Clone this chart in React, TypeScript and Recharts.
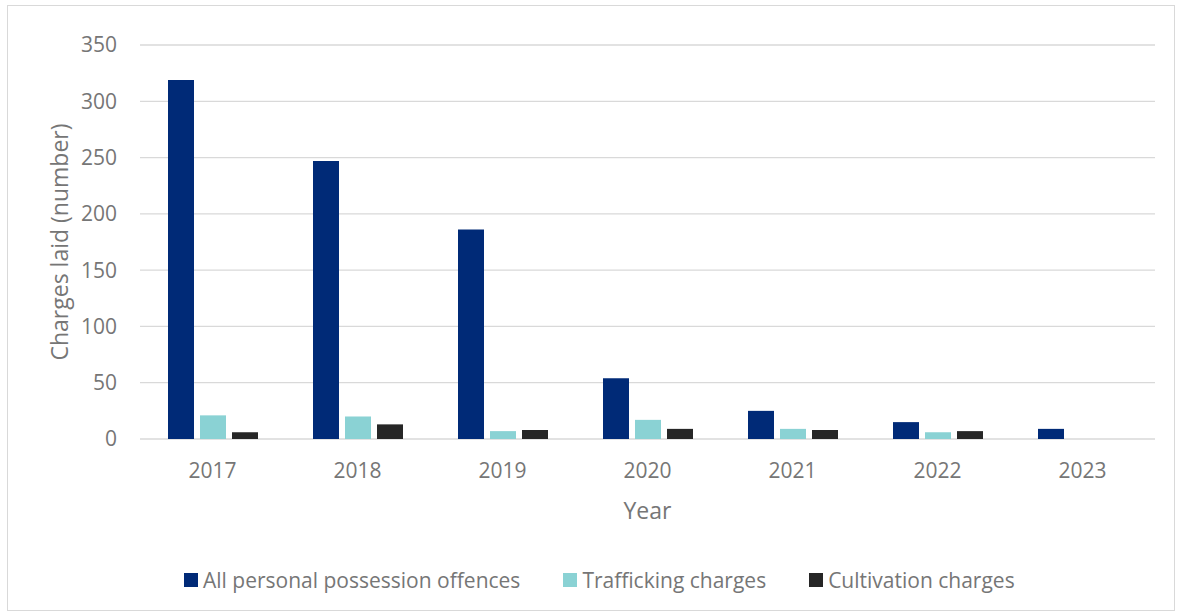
import React from "react";
import {
  BarChart,
  Bar,
  XAxis,
  YAxis,
  CartesianGrid,
  Label,
} from "recharts";

const years = ["2017", "2018", "2019", "2020", "2021", "2022", "2023"];
const possession = [319, 247, 186, 54, 25, 15, 9];
const trafficking = [21, 20, 7, 17, 9, 6, 0];
const cultivation = [6, 13, 8, 9, 8, 7, 0];
const yTicks = [0, 50, 100, 150, 200, 250, 300, 350];
const boundaryTicks = [0, 1, 2, 3, 4, 5, 6, 7];

const NAVY = "#002A77";
const TEAL = "#8AD2D4";
const DARK = "#262626";
const GRID = "#D9D9D9";
const TEXT = "#767676";
const FONT = "'Open Sans', sans-serif";

const series = [
  { key: "possession", name: "All personal possession offences", color: NAVY },
  { key: "trafficking", name: "Trafficking charges", color: TEAL },
  { key: "cultivation", name: "Cultivation charges", color: DARK },
];

const data = years.map((year, i) => ({
  year,
  possession: possession[i],
  trafficking: trafficking[i],
  cultivation: cultivation[i],
}));

export default function App() {
  return (
    <div
      style={{
        position: "absolute",
        left: 0,
        top: 0,
        width: 1178,
        height: 613,
        background: "#fff",
        fontFamily: FONT,
      }}
    >
      {/* chart frame */}
      <div
        style={{
          position: "absolute",
          left: 7,
          top: 5,
          width: 1168,
          height: 606,
          border: `1px solid ${GRID}`,
          boxSizing: "border-box",
        }}
      />
      <div style={{ position: "absolute", left: 0, top: 0 }}>
        <BarChart
          width={1178}
          height={540}
          data={data}
          margin={{ top: 45, right: 23, left: 80, bottom: 21 }}
          barSize={26}
          barGap={6}
        >
          <CartesianGrid stroke={GRID} strokeWidth={1.3} vertical={false} />
          <XAxis
            xAxisId="bounds"
            type="number"
            domain={[0, 7]}
            ticks={boundaryTicks}
            height={0}
            axisLine={{ stroke: GRID, strokeWidth: 1.3 }}
            tickLine={{ stroke: GRID, strokeWidth: 1.3 }}
            tickSize={6}
            tickFormatter={() => ""}
            allowDataOverflow
          />
          <XAxis
            dataKey="year"
            height={80}
            axisLine={false}
            tickLine={false}
            tickSize={0}
            tickMargin={24}
            tick={{ fill: TEXT, fontSize: 21, fontFamily: FONT }}
          >
            <Label
              value="Year"
              position="insideBottom"
              offset={0}
              style={{ fill: TEXT, fontSize: 23, fontFamily: FONT }}
            />
          </XAxis>
          <YAxis
            width={60}
            domain={[0, 350]}
            ticks={yTicks}
            axisLine={false}
            tickLine={false}
            tickSize={0}
            tickMargin={23}
            tick={{ fill: TEXT, fontSize: 21, fontFamily: FONT }}
          >
            <Label
              value="Charges laid (number)"
              angle={-90}
              position="insideLeft"
              offset={-20}
              style={{ fill: TEXT, fontSize: 23, fontFamily: FONT, textAnchor: "middle" }}
            />
          </YAxis>
          {series.map((s) => (
            <Bar
              key={s.key}
              dataKey={s.key}
              name={s.name}
              fill={s.color}
              isAnimationActive={false}
            />
          ))}
        </BarChart>
      </div>
      {/* legend */}
      <div
        style={{
          position: "absolute",
          left: 184,
          top: 566,
          display: "flex",
          alignItems: "center",
          gap: 43,
          color: TEXT,
          fontSize: 21,
          fontFamily: FONT,
          whiteSpace: "nowrap",
        }}
      >
        {series.map((s) => (
          <div key={s.key} style={{ display: "flex", alignItems: "center" }}>
            <span
              style={{
                display: "inline-block",
                width: 14,
                height: 14,
                background: s.color,
                marginRight: 5,
              }}
            />
            <span>{s.name}</span>
          </div>
        ))}
      </div>
    </div>
  );
}
